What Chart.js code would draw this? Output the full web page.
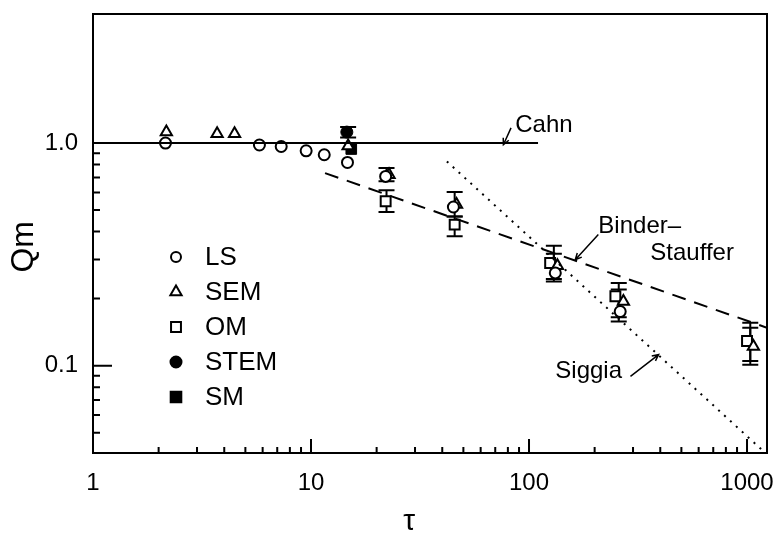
<!DOCTYPE html>
<html>
<head>
<meta charset="utf-8">
<script src="https://cdn.jsdelivr.net/npm/chart.js@4.4.1/dist/chart.umd.min.js"></script>
<style>
html, body { margin: 0; padding: 0; background: #fff; }
#wrap { width: 777px; height: 534px; }
</style>
</head>
<body>
<div id="wrap"><canvas id="c"></canvas></div>
<script>
// values (tau, Qm)
var lsTau = [2.15, 5.8, 7.3, 9.5, 11.5, 14.7, 22, 45, 132, 262];
var lsQ   = [1.0, 0.98, 0.965, 0.923, 0.886, 0.818, 0.708, 0.516, 0.261, 0.175];
var semTau = [2.17, 3.71, 4.46, 14.8, 22.8, 46.5, 135, 271, 1070];
var semQ   = [1.12, 1.10, 1.10, 0.97, 0.72, 0.53, 0.281, 0.194, 0.122];
var omTau = [22, 45.6, 125, 249, 1000];
var omQ   = [0.548, 0.43, 0.289, 0.205, 0.129];
var stemTau = [14.6];
var stemQ   = [1.12];
var smTau = [15.3];
var smQ   = [0.94];

// error bars
var errTau  = [14.8, 22.2, 22.2, 45.6, 45.6, 130, 130, 258, 258, 1035, 1035];
var errLow  = [1.06, 0.673, 0.49, 0.468, 0.381, 0.239, 0.245, 0.158, 0.165, 0.101, 0.105];
var errHigh = [1.18, 0.772, 0.613, 0.603, 0.468, 0.346, 0.318, 0.235, 0.22, 0.156, 0.148];

// model lines
var cahnTau = [1, 110];
var cahnQ   = [1.0, 1.0];
var bsTau = [11.6, 1235];
var bsQ   = [0.733, 0.148];
var sigTau = [42, 1191];
var sigQ   = [0.827, 0.0412];

// tick labels
var xTickLabels = {1: '1', 10: '10', 100: '100', 1000: '1000'};
var yTickLabels = {1: '1.0', 0.1: '0.1'};

// annotations (data coords)
var noteText = ['Cahn', 'Binder\u2013', 'Stauffer', 'Siggia'];
var noteTau  = [86.5, 208, 360, 132];
var noteQ    = [1.124, 0.396, 0.299, 0.0883];
var arrowFromTau = [82.7, 208, 292];
var arrowFromQ   = [1.17, 0.388, 0.0895];
var arrowToTau   = [76.3, 163, 393];
var arrowToQ     = [0.983, 0.299, 0.112];

function pts(xs, ys) {
	var out = [];
	for (var i = 0; i < xs.length; i++) out.push({x: xs[i], y: ys[i]});
	return out;
}

function isDecadeStep(v) {
	var p = Math.pow(10, Math.floor(Math.log10(v) + 1e-9));
	var m = v / p;
	return Math.abs(m - Math.round(m)) < 1e-6 && Math.round(m) <= 9;
}
function isMajor(v) {
	var l = Math.log10(v);
	return Math.abs(l - Math.round(l)) < 1e-9;
}

var FONT = "'Liberation Sans', Arial, sans-serif";

var decor = {
	id: 'decor',
	beforeDatasetsDraw: function(chart) {
		var ctx = chart.ctx, xs = chart.scales.x, ys = chart.scales.y;
		ctx.save();
		ctx.strokeStyle = '#000';
		ctx.lineWidth = 2;
		for (var i = 0; i < errTau.length; i++) {
			var px = xs.getPixelForValue(errTau[i]);
			var lo = ys.getPixelForValue(errLow[i]);
			var hi = ys.getPixelForValue(errHigh[i]);
			ctx.beginPath();
			ctx.moveTo(px, lo); ctx.lineTo(px, hi);
			ctx.moveTo(px - 8, lo); ctx.lineTo(px + 8, lo);
			ctx.moveTo(px - 8, hi); ctx.lineTo(px + 8, hi);
			ctx.stroke();
		}
		ctx.restore();
	},
	afterDraw: function(chart) {
		var ctx = chart.ctx, xs = chart.scales.x, ys = chart.scales.y, a = chart.chartArea;
		ctx.save();
		ctx.strokeStyle = '#000';
		ctx.fillStyle = '#000';
		ctx.lineWidth = 2;
		// frame
		ctx.strokeRect(a.left, a.top, a.right - a.left, a.bottom - a.top);
		// inward ticks
		ctx.beginPath();
		xs.ticks.forEach(function(t) {
			if (!isDecadeStep(t.value)) return;
			var px = xs.getPixelForValue(t.value);
			var len = isMajor(t.value) ? 14 : 6;
			ctx.moveTo(px, a.bottom); ctx.lineTo(px, a.bottom - len);
		});
		ys.ticks.forEach(function(t) {
			if (!isDecadeStep(t.value) || t.value > 1) return;
			var py = ys.getPixelForValue(t.value);
			var len = isMajor(t.value) ? 19 : 7;
			ctx.moveTo(a.left, py); ctx.lineTo(a.left + len, py);
		});
		ctx.stroke();

		// annotations
		ctx.font = '24px ' + FONT;
		ctx.textBaseline = 'alphabetic';
		ctx.textAlign = 'left';
		for (var i = 0; i < noteText.length; i++) {
			ctx.fillText(noteText[i], xs.getPixelForValue(noteTau[i]), ys.getPixelForValue(noteQ[i]));
		}
		ctx.lineWidth = 1.5;
		for (var j = 0; j < arrowFromTau.length; j++) {
			var x0 = xs.getPixelForValue(arrowFromTau[j]), y0 = ys.getPixelForValue(arrowFromQ[j]);
			var x1 = xs.getPixelForValue(arrowToTau[j]), y1 = ys.getPixelForValue(arrowToQ[j]);
			var ang = Math.atan2(y1 - y0, x1 - x0);
			ctx.beginPath();
			ctx.moveTo(x0, y0); ctx.lineTo(x1, y1);
			ctx.moveTo(x1 - 7 * Math.cos(ang - 0.45), y1 - 7 * Math.sin(ang - 0.45));
			ctx.lineTo(x1, y1);
			ctx.lineTo(x1 - 7 * Math.cos(ang + 0.45), y1 - 7 * Math.sin(ang + 0.45));
			ctx.stroke();
		}

		// legend
		var lx = a.left + 83, ly = a.top + 243, step = 35;
		var items = chart.data.datasets.filter(function(d) { return d.inLegend; });
		ctx.font = '26px ' + FONT;
		ctx.textBaseline = 'middle';
		items.forEach(function(d, k) {
			var y = ly + k * step;
			ctx.fillStyle = d.backgroundColor;
			ctx.strokeStyle = '#000';
			ctx.lineWidth = 2;
			Chart.helpers.drawPoint(ctx, {pointStyle: d.pointStyle, radius: d.legendRadius, rotation: 0, borderWidth: 2}, lx, y);
			ctx.fillStyle = '#000';
			ctx.fillText(d.label, lx + 29, y + 1);
		});
		ctx.restore();
	}
};

var ctx = document.getElementById('c').getContext('2d');
var chart = new Chart(ctx, {
	type: 'scatter',
	data: {
		datasets: [
			{label: 'Cahn', type: 'line', data: pts(cahnTau, cahnQ), borderColor: '#000', borderWidth: 2, pointRadius: 0, fill: false},
			{label: 'Binder-Stauffer', type: 'line', data: pts(bsTau, bsQ), borderColor: '#000', borderWidth: 2, borderDash: [14, 9], pointRadius: 0, fill: false},
			{label: 'Siggia', type: 'line', data: pts(sigTau, sigQ), borderColor: '#000', borderWidth: 2, borderDash: [2, 6], pointRadius: 0, fill: false},
			{label: 'LS', data: pts(lsTau, lsQ), pointStyle: 'circle', pointRadius: 5.5, borderColor: '#000', backgroundColor: '#fff', borderWidth: 2, inLegend: true, legendRadius: 5},
			{label: 'SEM', data: pts(semTau, semQ), pointStyle: 'triangle', pointRadius: 6.5, borderColor: '#000', backgroundColor: '#fff', borderWidth: 2, inLegend: true, legendRadius: 6.5},
			{label: 'OM', data: pts(omTau, omQ), pointStyle: 'rect', pointRadius: 7, borderColor: '#000', backgroundColor: '#fff', borderWidth: 2, inLegend: true, legendRadius: 7},
			{label: 'STEM', data: pts(stemTau, stemQ), pointStyle: 'circle', pointRadius: 6, borderColor: '#000', backgroundColor: '#000', borderWidth: 1, inLegend: true, legendRadius: 5.5},
			{label: 'SM', data: pts(smTau, smQ), pointStyle: 'rect', pointRadius: 7.5, borderColor: '#000', backgroundColor: '#000', borderWidth: 1, inLegend: true, legendRadius: 7.5}
		]
	},
	options: {
		responsive: true,
		maintainAspectRatio: false,
		animation: false,
		layout: {padding: {top: 14, right: 10, left: 0, bottom: 0}},
		plugins: {legend: {display: false}, tooltip: {enabled: false}},
		elements: {line: {tension: 0}},
		scales: {
			x: {
				type: 'logarithmic',
				min: 1,
				max: 1235,
				grid: {display: false, drawTicks: false},
				border: {display: false},
				ticks: {
					autoSkip: false, maxRotation: 0, padding: 16, color: '#000',
					font: {family: FONT, size: 24},
					callback: function(v) { return xTickLabels[v] || ''; }
				},
				title: {display: true, text: '\u03c4\u00a0\u00a0\u00a0\u00a0\u00a0', color: '#000', font: {family: FONT, size: 30, lineHeight: 0.8}, padding: {top: 0, bottom: 0}},
				afterFit: function(s) { s.height = 81; s.paddingLeft = 0; s.paddingRight = 0; }
			},
			y: {
				type: 'logarithmic',
				min: 0.0405,
				max: 3.8,
				grid: {display: false, drawTicks: false},
				border: {display: false},
				ticks: {
					autoSkip: false, padding: 15, color: '#000',
					font: {family: FONT, size: 24},
					callback: function(v) { return yTickLabels[v] || ''; }
				},
				title: {display: true, text: 'Qm\u00a0\u00a0\u00a0', color: '#000', font: {family: FONT, size: 32}, padding: {top: 5, bottom: 0}},
				afterFit: function(s) { s.width = 93; s.paddingTop = 0; s.paddingBottom = 0; }
			}
		}
	},
	plugins: [decor]
});
</script>
</body>
</html>
